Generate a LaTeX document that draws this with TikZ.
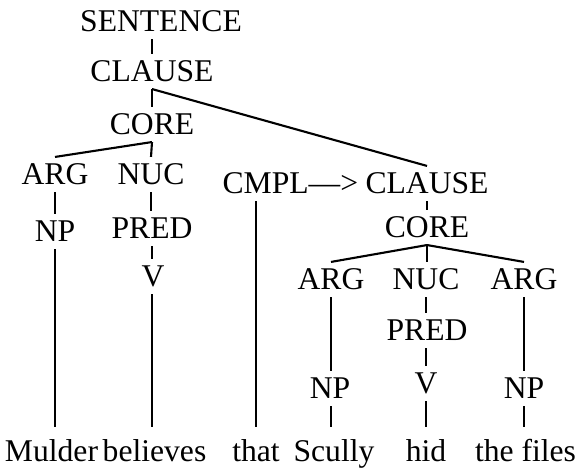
\documentclass[tikz,border=0pt]{standalone}
\usepackage{fontspec}
\setmainfont{Liberation Serif}

\begin{document}
\begin{tikzpicture}[line width=0.6pt,
    cat/.style={anchor=base,inner xsep=1pt,inner ysep=0.06cm,text height=0.21cm,text depth=0pt,font=\fontsize{9}{11}\selectfont},
    word/.style={cat,inner ysep=0.13cm}]
  \useasboundingbox (0,0) rectangle (5.78,-4.69);
  % main clause
  \node[cat] (sent) at (1.61,-0.32) {SENTENCE};
  \node[cat] (clause) at (1.52,-0.82) {CLAUSE};
  \node[cat] (core) at (1.52,-1.35) {CORE};
  \node[cat] (arg1) at (0.55,-1.85) {ARG};
  \node[cat] (nuc1) at (1.51,-1.85) {NUC};
  \node[cat] (np1) at (0.55,-2.42) {NP};
  \node[cat] (pred1) at (1.52,-2.39) {PRED};
  \node[cat] (v1) at (1.53,-2.87) {V};
  % embedded clause
  \node[cat,anchor=base west] (cmpl) at (2.18,-1.94) {CMPL—>};
  \node[cat] (clause2) at (4.27,-1.94) {CLAUSE};
  \node[cat] (core2) at (4.27,-2.38) {CORE};
  \node[cat] (arg2) at (3.31,-2.90) {ARG};
  \node[cat] (nuc2) at (4.26,-2.90) {NUC};
  \node[cat] (arg3) at (5.24,-2.90) {ARG};
  \node[cat] (pred2) at (4.27,-3.41) {PRED};
  \node[cat] (np2) at (3.30,-3.99) {NP};
  \node[cat] (v2) at (4.26,-3.94) {V};
  \node[cat] (np3) at (5.24,-3.99) {NP};
  % words
  \node[word] (mulder) at (0.515,-4.62) {Mulder};
  \node[word] (believes) at (1.545,-4.62) {believes};
  \node[word] (that) at (2.56,-4.62) {that};
  \node[word] (scully) at (3.34,-4.62) {Scully};
  \node[word] (hid) at (4.26,-4.62) {hid};
  \node[word] (files) at (5.255,-4.62) {the files};

  \draw (sent.south -| clause.north) -- (clause.north);
  \draw (clause.south) -- (core.north);
  \draw (clause.south) -- (clause2.north);
  \draw (core.south) -- (arg1.north);
  \draw (core.south) -- (nuc1.north);
  \draw (arg1.south) -- (np1.north);
  \draw (np1.south) -- (np1.south |- mulder.north);
  \draw (nuc1.south) -- (pred1.north -| nuc1.south);
  \draw (pred1.south) -- (v1.north -| pred1.south);
  \draw (v1.south -| pred1.south) -- (believes.north -| pred1.south);
  \draw (cmpl.south -| that.north) -- (that.north);
  \draw (clause2.south) -- (core2.north);
  \draw (core2.south) -- (arg2.north);
  \draw (core2.south) -- (nuc2.north -| core2.south);
  \draw (core2.south) -- (arg3.north);
  \draw (arg2.south) -- (np2.north -| arg2.south);
  \draw (np2.south -| arg2.south) -- (scully.north -| arg2.south);
  \draw (nuc2.south) -- (pred2.north -| nuc2.south);
  \draw (pred2.south -| nuc2.south) -- (v2.north -| nuc2.south);
  \draw (v2.south -| nuc2.south) -- (hid.north -| nuc2.south);
  \draw (arg3.south) -- (np3.north);
  \draw (np3.south) -- (files.north -| np3.south);
\end{tikzpicture}
\end{document}
